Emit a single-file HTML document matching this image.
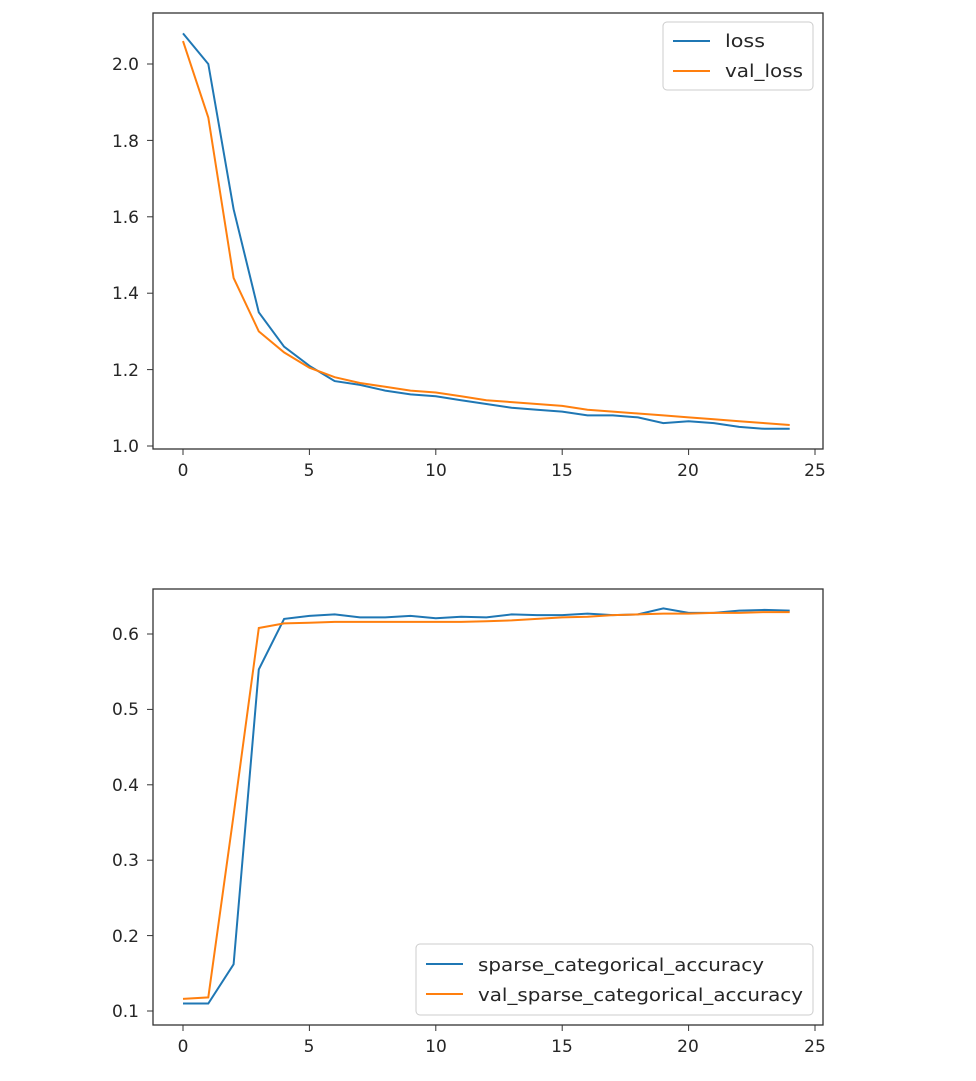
<!DOCTYPE html>
<html><head><meta charset="utf-8"><style>
body{margin:0;background:#fff;}
svg text{font-family:"DejaVu Sans","Liberation Sans",sans-serif;font-size:17px;fill:#262626;}
svg text.lg{font-size:18px;}
</style></head><body>
<svg id="s" width="976" height="1076" xmlns="http://www.w3.org/2000/svg">
<rect width="976" height="1076" fill="#fff"/>
<g id="g"></g>
<rect x="153" y="13" width="670" height="436" fill="none" stroke="#333" stroke-width="1.3"/>
<g text-anchor="end">
<text x="139" y="452">1.0</text><text x="139" y="376">1.2</text><text x="139" y="299">1.4</text><text x="139" y="223">1.6</text><text x="139" y="147">1.8</text><text x="139" y="70">2.0</text>
</g>
<g text-anchor="middle">
<text x="183" y="476">0</text><text x="309" y="476">5</text><text x="436" y="476">10</text><text x="562" y="476">15</text><text x="688" y="476">20</text><text x="815" y="476">25</text>
</g>
<rect x="153" y="589" width="670" height="436" fill="none" stroke="#333" stroke-width="1.3"/>
<g text-anchor="end">
<text x="139" y="1017">0.1</text><text x="139" y="942">0.2</text><text x="139" y="866">0.3</text><text x="139" y="791">0.4</text><text x="139" y="715">0.5</text><text x="139" y="640">0.6</text>
</g>
<g text-anchor="middle">
<text x="183" y="1052">0</text><text x="309" y="1052">5</text><text x="436" y="1052">10</text><text x="562" y="1052">15</text><text x="688" y="1052">20</text><text x="815" y="1052">25</text>
</g>
<rect x="663" y="22" width="150" height="68" rx="4" fill="#fff" stroke="#ccc"/>
<line x1="673" y1="41" x2="710" y2="41" stroke="#1f77b4" stroke-width="2"/>
<line x1="673" y1="71" x2="710" y2="71" stroke="#ff7f0e" stroke-width="2"/>
<text class="lg" x="725" y="47" textLength="40" lengthAdjust="spacingAndGlyphs">loss</text><text class="lg" x="725" y="77" textLength="78" lengthAdjust="spacingAndGlyphs">val_loss</text>
<rect x="416" y="944" width="397" height="71" rx="4" fill="#fff" stroke="#ccc"/>
<line x1="426" y1="964" x2="463" y2="964" stroke="#1f77b4" stroke-width="2"/>
<line x1="426" y1="994" x2="463" y2="994" stroke="#ff7f0e" stroke-width="2"/>
<text class="lg" x="478" y="971" textLength="286" lengthAdjust="spacingAndGlyphs">sparse_categorical_accuracy</text><text class="lg" x="478" y="1001" textLength="325" lengthAdjust="spacingAndGlyphs">val_sparse_categorical_accuracy</text>
</svg>
<script>
const L=[2.08,2.00,1.62,1.35,1.26,1.21,1.17,1.16,1.145,1.135,1.13,1.12,1.11,1.10,1.095,1.09,1.08,1.08,1.075,1.06,1.065,1.06,1.05,1.045,1.045];
const VL=[2.06,1.86,1.44,1.30,1.245,1.205,1.18,1.165,1.155,1.145,1.14,1.13,1.12,1.115,1.11,1.105,1.095,1.09,1.085,1.08,1.075,1.07,1.065,1.06,1.055];
const A=[0.110,0.110,0.162,0.553,0.620,0.624,0.626,0.622,0.622,0.624,0.621,0.623,0.622,0.626,0.625,0.625,0.627,0.625,0.626,0.634,0.628,0.628,0.631,0.632,0.631];
const VA=[0.116,0.118,0.36,0.608,0.614,0.615,0.616,0.616,0.616,0.616,0.616,0.616,0.617,0.618,0.62,0.622,0.623,0.625,0.626,0.627,0.627,0.628,0.628,0.629,0.629];
const g=document.getElementById('g');let h='';
const X=i=>183+i*25.28;
function pl(d,f,c){h+=`<polyline fill="none" stroke="${c}" stroke-width="2" points="${d.map((v,i)=>X(i).toFixed(1)+','+f(v).toFixed(1)).join(' ')}"/>`;}
const yT=v=>446-(v-1)*382, yB=v=>1011-(v-0.1)*754;
pl(L,yT,'#1f77b4');pl(VL,yT,'#ff7f0e');pl(A,yB,'#1f77b4');pl(VA,yB,'#ff7f0e');
let t='';
for(let k=0;k<=5;k++){const x=X(k*5);t+=`<line x1="${x}" y1="449" x2="${x}" y2="455" stroke="#333"/><line x1="${x}" y1="1025" x2="${x}" y2="1031" stroke="#333"/>`;}
for(let k=0;k<6;k++){const y1=yT(1+k*0.2),y2=yB(0.1+k*0.1);t+=`<line x1="147" y1="${y1}" x2="153" y2="${y1}" stroke="#333"/><line x1="147" y1="${y2}" x2="153" y2="${y2}" stroke="#333"/>`;}
g.innerHTML=h+t;
</script>
</body></html>
